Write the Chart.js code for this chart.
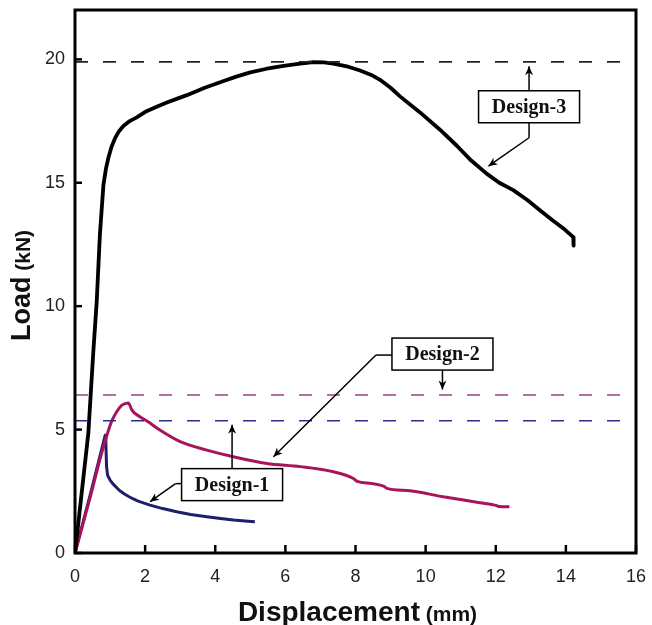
<!DOCTYPE html>
<html>
<head>
<meta charset="utf-8">
<script src="https://cdn.jsdelivr.net/npm/chart.js@4.4.1/dist/chart.umd.min.js"></script>
<style>
  html, body { margin: 0; padding: 0; background: #ffffff; }
  #wrap { width: 652px; height: 625px; position: relative; }
</style>
</head>
<body>
<div id="wrap"><canvas id="c" width="652" height="625"></canvas></div>
<script>
// ---- Data ----
const design1X = [0, 0.45, 0.86, 0.88, 0.9, 0.93, 1.0, 1.07, 1.14, 1.22, 1.3, 1.4, 1.52, 1.65, 1.8, 1.97, 2.14, 2.5, 2.9, 3.3, 3.76, 4.15, 4.52, 4.85, 5.13];
const design1Y = [0, 2.45, 4.77, 4.45, 3.5, 3.15, 2.95, 2.82, 2.72, 2.6, 2.5, 2.4, 2.3, 2.2, 2.1, 2.02, 1.94, 1.8, 1.67, 1.56, 1.47, 1.4, 1.34, 1.3, 1.27];

const design2X = [0, 0.45, 0.75, 0.95, 1.05, 1.19, 1.33, 1.45, 1.52, 1.56, 1.62, 1.85, 2.04, 2.42, 3.0, 3.76, 4.52, 5.47, 6.42, 7.37, 7.94, 8.05, 8.46, 8.8, 8.9, 9.55, 10.5, 11.55, 12.03, 12.1, 12.39];
const design2Y = [0, 2.35, 4.0, 4.95, 5.35, 5.72, 5.98, 6.06, 6.08, 6.0, 5.8, 5.52, 5.36, 4.98, 4.51, 4.17, 3.9, 3.63, 3.5, 3.29, 3.02, 2.9, 2.82, 2.71, 2.62, 2.52, 2.28, 2.04, 1.92, 1.88, 1.87];

const design3X = [0, 0.38, 0.52, 0.62, 0.71, 0.81, 0.88, 0.95, 1.04, 1.14, 1.25, 1.38, 1.56, 1.76, 2.04, 2.33, 2.62, 2.9, 3.19, 3.7, 4.2, 4.6, 5.0, 5.47, 5.95, 6.42, 6.8, 7.1, 7.37, 7.75, 8.13, 8.45, 8.7, 9.0, 9.27, 9.84, 10.41, 10.89, 11.3, 11.74, 12.1, 12.5, 12.9, 13.26, 13.6, 13.93, 14.21, 14.22];
const design3Y = [0, 4.85, 8.1, 10.2, 12.9, 14.9, 15.55, 16.0, 16.45, 16.8, 17.08, 17.3, 17.5, 17.65, 17.9, 18.08, 18.25, 18.4, 18.55, 18.85, 19.1, 19.3, 19.47, 19.62, 19.74, 19.83, 19.89, 19.88, 19.83, 19.72, 19.55, 19.37, 19.17, 18.85, 18.5, 17.85, 17.15, 16.5, 15.9, 15.37, 15.0, 14.7, 14.3, 13.89, 13.5, 13.15, 12.8, 12.45];

// design target (dashed) lines
const refX = [0, 15.6];
const ref1Y = [5.36, 5.36];
const ref2Y = [6.4, 6.4];
const ref3Y = [19.9, 19.9];

const xTicks = [0, 2, 4, 6, 8, 10, 12, 14, 16];
const yTicks = [0, 5, 10, 15, 20];

// annotation labels: [text, boxCenterX, boxCenterY] in data units
const labelText = ["Design-1", "Design-2", "Design-3"];
const labelX = [4.48, 10.48, 12.95];
const labelY = [2.77, 8.06, 18.08];

const toPts = (xs, ys) => xs.map((x, i) => ({ x: x, y: ys[i] }));

const FONT = 'Arial, "Liberation Sans", sans-serif';
const SERIF = '"Times New Roman", "Liberation Serif", serif';

function arrow(ctx, x1, y1, x2, y2) {
  ctx.beginPath();
  ctx.moveTo(x1, y1);
  ctx.lineTo(x2, y2);
  ctx.stroke();
  const a = Math.atan2(y2 - y1, x2 - x1);
  const L = 9, W = 4;
  ctx.beginPath();
  ctx.moveTo(x2, y2);
  ctx.lineTo(x2 - L * Math.cos(a) + W * Math.sin(a), y2 - L * Math.sin(a) - W * Math.cos(a));
  ctx.lineTo(x2 - L * Math.cos(a) * 0.7, y2 - L * Math.sin(a) * 0.7);
  ctx.lineTo(x2 - L * Math.cos(a) - W * Math.sin(a), y2 - L * Math.sin(a) + W * Math.cos(a));
  ctx.closePath();
  ctx.fill();
}

const decor = {
  id: 'decor',
  afterDraw(chart) {
    const ctx = chart.ctx;
    const xs = chart.scales.x, ys = chart.scales.y;
    const a = chart.chartArea;
    const X = v => xs.getPixelForValue(v);
    const Y = v => ys.getPixelForValue(v);
    ctx.save();
    // inside ticks
    ctx.strokeStyle = '#000';
    ctx.lineWidth = 2.5;
    xTicks.forEach(t => {
      const px = X(t);
      ctx.beginPath(); ctx.moveTo(px, a.bottom); ctx.lineTo(px, a.bottom - 8); ctx.stroke();
    });
    yTicks.forEach(t => {
      const py = Y(t);
      ctx.beginPath(); ctx.moveTo(a.left, py); ctx.lineTo(a.left + 7, py); ctx.stroke();
    });
    // frame
    ctx.lineWidth = 3;
    ctx.strokeRect(a.left, a.top, a.right - a.left, a.bottom - a.top);

    // annotation boxes
    ctx.font = 'bold 20px ' + SERIF;
    ctx.textAlign = 'center';
    ctx.textBaseline = 'middle';
    const bw = 101, bh = 32;
    const boxes = labelText.map((t, i) => ({ t: t, cx: X(labelX[i]), cy: Y(labelY[i]) }));
    boxes.forEach(b => {
      ctx.fillStyle = '#fff';
      ctx.fillRect(b.cx - bw / 2, b.cy - bh / 2, bw, bh);
      ctx.lineWidth = 1.5;
      ctx.strokeStyle = '#000';
      ctx.strokeRect(b.cx - bw / 2, b.cy - bh / 2, bw, bh);
      ctx.fillStyle = '#111';
      ctx.fillText(b.t, b.cx, b.cy + 1);
    });
    ctx.strokeStyle = '#000';
    ctx.fillStyle = '#000';
    ctx.lineWidth = 1.5;
    // Design-1 arrows
    let b = boxes[0];
    arrow(ctx, b.cx, b.cy - bh / 2, b.cx, Y(5.2));
    ctx.beginPath(); ctx.moveTo(b.cx - bw / 2, b.cy - 1); ctx.lineTo(b.cx - bw / 2 - 6, b.cy - 1); ctx.stroke();
    arrow(ctx, b.cx - bw / 2 - 6, b.cy - 1, X(2.14), Y(2.08));
    // Design-2 arrows
    b = boxes[1];
    arrow(ctx, b.cx, b.cy + bh / 2, b.cx, Y(6.62));
    ctx.beginPath(); ctx.moveTo(b.cx - bw / 2, b.cy + 1); ctx.lineTo(b.cx - bw / 2 - 16, b.cy + 1); ctx.stroke();
    arrow(ctx, b.cx - bw / 2 - 16, b.cy + 1, X(5.66), Y(3.9));
    // Design-3 arrows
    b = boxes[2];
    arrow(ctx, b.cx, b.cy - bh / 2, b.cx, Y(19.72));
    ctx.beginPath(); ctx.moveTo(b.cx, b.cy + bh / 2); ctx.lineTo(b.cx, b.cy + bh / 2 + 15); ctx.stroke();
    arrow(ctx, b.cx, b.cy + bh / 2 + 15, X(11.79), Y(15.67));

    // axis titles
    ctx.fillStyle = '#111';
    ctx.textBaseline = 'alphabetic';
    ctx.textAlign = 'left';
    const f1 = 'bold 28px ' + FONT, f2 = 'bold 21px ' + FONT;
    ctx.font = f1; const w1 = ctx.measureText('Displacement').width;
    ctx.font = f2; const w2 = ctx.measureText(' (mm)').width;
    const cx = (a.left + a.right) / 2 + 2;
    let sx = cx - (w1 + w2) / 2;
    ctx.font = f1; ctx.fillText('Displacement', sx, 621);
    ctx.font = f2; ctx.fillText(' (mm)', sx + w1, 621);

    const g1 = 'bold 27px ' + FONT, g2 = 'bold 21px ' + FONT;
    ctx.font = g1; const v1 = ctx.measureText('Load').width;
    ctx.font = g2; const v2 = ctx.measureText(' (kN)').width;
    ctx.translate(30, (a.top + a.bottom) / 2 + 4);
    ctx.rotate(-Math.PI / 2);
    sx = -(v1 + v2) / 2;
    ctx.font = g1; ctx.fillText('Load', sx, 0);
    ctx.font = g2; ctx.fillText(' (kN)', sx + v1, 0);
    ctx.restore();
  }
};

const lineDs = (label, xs, ys, color, width, smooth) => ({
  label: label, data: toPts(xs, ys), showLine: true, borderColor: color,
  borderWidth: width, pointRadius: 0, fill: false, borderJoinStyle: 'round',
  ...(smooth ? { cubicInterpolationMode: 'monotone' } : { tension: 0 })
});
const dashDs = (ys, color) => ({
  data: toPts(refX, ys), showLine: true, borderColor: color, borderWidth: 1.6,
  borderDash: [13, 15], pointRadius: 0, fill: false
});

new Chart(document.getElementById('c'), {
  type: 'scatter',
  data: {
    datasets: [
      dashDs(ref3Y, '#222222'),
      dashDs(ref2Y, '#9a3f8e'),
      dashDs(ref1Y, '#2c2c8c'),
      lineDs('Design-3', design3X, design3Y, '#000000', 3.8, false),
      lineDs('Design-2', design2X, design2Y, '#a8145a', 3, true),
      lineDs('Design-1', design1X, design1Y, '#1e1e6a', 3, false)
    ]
  },
  options: {
    responsive: false,
    animation: false,
    layout: { padding: { top: 10, right: 16, left: 0, bottom: 0 } },
    plugins: { legend: { display: false }, tooltip: { enabled: false } },
    scales: {
      x: {
        type: 'linear', min: 0, max: 16,
        ticks: { stepSize: 2, font: { size: 18, family: FONT }, color: '#222', padding: 13, maxRotation: 0 },
        grid: { display: false, drawTicks: false },
        border: { display: false },
        afterFit: s => { s.height = 72; s.paddingLeft = 0; s.paddingRight = 0; }
      },
      y: {
        type: 'linear', min: 0, max: 22,
        afterBuildTicks: s => { s.ticks = s.ticks.filter(t => t.value % 5 === 0); },
        ticks: { stepSize: 5, font: { size: 18, family: FONT }, color: '#222', padding: 10 },
        grid: { display: false, drawTicks: false },
        border: { display: false },
        afterFit: s => { s.width = 75; s.paddingTop = 0; s.paddingBottom = 0; }
      }
    }
  },
  plugins: [decor]
});
</script>
</body>
</html>
